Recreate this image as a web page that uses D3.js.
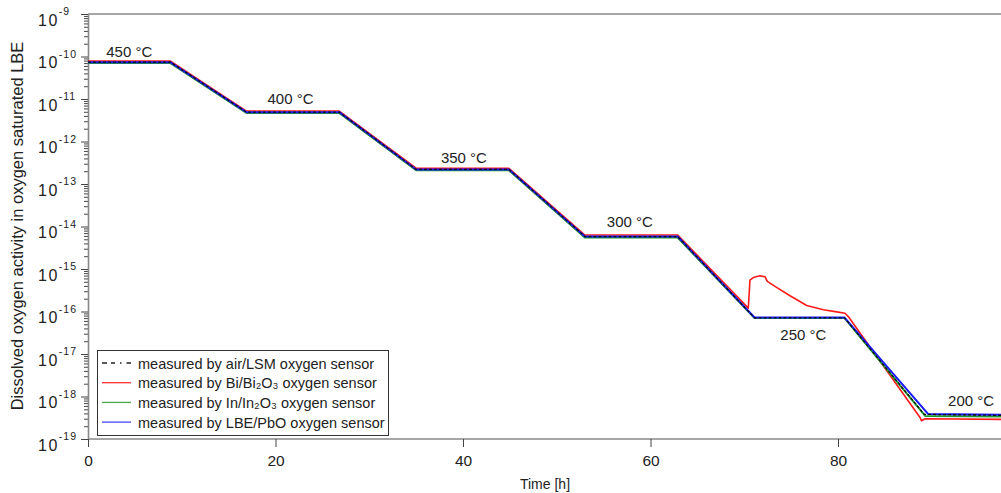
<!DOCTYPE html>
<html>
<head>
<meta charset="utf-8">
<script src="https://cdn.jsdelivr.net/npm/d3@7"></script>
<style>
  body { margin: 0; background: #fff; }
  svg { font-family: "Liberation Sans", Arial, sans-serif; }
</style>
</head>
<body>
<div class="chart"></div>
<script>
// time [h] and oxygen activity
const timeAir = [0, 8.8, 16.9, 26.8, 35.0, 44.9, 53.0, 62.9, 71.1, 80.7, 89.2, 97.5];
const actAir  = [7.4e-11, 7.4e-11, 4.9e-12, 4.9e-12, 2.2e-13, 2.2e-13, 5.8e-15, 5.8e-15, 7.1e-17, 7.1e-17, 3.8e-19, 3.6e-19];

const timeBi = [0, 8.8, 16.9, 26.8, 35.0, 44.9, 53.0, 62.9, 70.43, 70.61, 70.97, 71.68, 72.21, 72.46, 73.45, 74.88, 76.66, 78.44, 79.86, 80.75, 81.1, 88.75, 88.9, 89.3, 97.5];
const actBi  = [7.8e-11, 7.8e-11, 5.2e-12, 5.2e-12, 2.35e-13, 2.35e-13, 6.3e-15, 6.3e-15, 1.2e-16, 5.5e-16, 6.3e-16, 6.9e-16, 6.6e-16, 5.1e-16, 3.7e-16, 2.35e-16, 1.38e-16, 1.1e-16, 9.8e-17, 9.1e-17, 7.6e-17, 3.2e-19, 2.7e-19, 3.0e-19, 2.9e-19];

const timeIn = [0, 8.8, 16.9, 26.8, 35.0, 44.9, 53.0, 62.9, 71.1, 80.7, 89.3, 97.5];
const actIn  = [7.0e-11, 7.0e-11, 4.7e-12, 4.7e-12, 2.1e-13, 2.1e-13, 5.5e-15, 5.5e-15, 7.0e-17, 7.0e-17, 3.5e-19, 3.4e-19];

const timePbO = [0, 8.8, 16.9, 26.8, 35.0, 44.9, 53.0, 62.9, 71.1, 80.7, 89.6, 97.5];
const actPbO  = [7.3e-11, 7.3e-11, 4.9e-12, 4.9e-12, 2.2e-13, 2.2e-13, 5.8e-15, 5.8e-15, 7.2e-17, 7.2e-17, 3.9e-19, 3.7e-19];

const xTicks = [0, 20, 40, 60, 80];
const yExponents = [-9, -10, -11, -12, -13, -14, -15, -16, -17, -18, -19];

const tempLabels = ["450 °C", "400 °C", "350 °C", "300 °C", "250 °C", "200 °C"];
const tempAt = [[4.4, 9.7e-11], [21.6, 7.6e-12], [40.1, 3.1e-13], [57.8, 9.8e-15], [76.3, 2.1e-17], [94.2, 6.0e-19]];

const legendNames = ["measured by air/LSM oxygen sensor", "measured by Bi/Bi\u2082O\u2083 oxygen sensor",
                     "measured by In/In\u2082O\u2083 oxygen sensor", "measured by LBE/PbO oxygen sensor"];

const outerWidth = 1001;
const outerHeight = 493;
const plotLeft = 88, plotTop = 14, plotBottom = 439;

const svg = d3.select(".chart")
    .append("svg")
    .attr("width", outerWidth)
    .attr("height", outerHeight);

const x = d3.scaleLinear().domain([0, 100]).range([plotLeft, plotLeft + 937.5]);
const y = d3.scaleLog().domain([1e-19, 1e-9]).range([plotBottom, plotTop]);

svg.append("defs").append("clipPath").attr("id", "plot")
    .append("rect").attr("x", plotLeft).attr("y", plotTop - 2).attr("width", outerWidth - plotLeft).attr("height", plotBottom - plotTop + 4);

// frame (top line only, right side is cut off)
svg.append("line")
    .attr("x1", plotLeft).attr("x2", outerWidth).attr("y1", plotTop).attr("y2", plotTop)
    .attr("stroke", "#888").attr("stroke-width", 1.6);

// axes
const majors = yExponents.map(e => Math.pow(10, e));
let minors = [];
for (let e = -19; e < -9; e++) {
    for (let k = 2; k < 10; k++) minors.push(k * Math.pow(10, e));
}

svg.append("g")
    .attr("class", "axis-y-minor")
    .attr("transform", `translate(${plotLeft},0)`)
    .call(d3.axisLeft(y).tickValues(minors).tickSize(4).tickFormat(""))
    .call(g => g.select(".domain").remove());

const yAxisG = svg.append("g")
    .attr("class", "axis-y-axis")
    .attr("transform", `translate(${plotLeft},0)`)
    .call(d3.axisLeft(y).tickValues(majors).tickSize(7).tickSizeOuter(0));

yAxisG.selectAll(".tick text").each(function(d) {
    const t = d3.select(this);
    const ex = Math.round(Math.log10(d));
    t.text(null).attr("dy", null)
        .attr("x", -50).attr("y", 11)
        .attr("text-anchor", "start")
        .attr("font-size", 16).attr("letter-spacing", 1.5);
    t.append("tspan").text("10");
    t.append("tspan").attr("dy", -10.5).attr("font-size", 10.5).attr("letter-spacing", 1).text(ex);
});

const xAxisG = svg.append("g")
    .attr("class", "axis-x-axis")
    .attr("transform", `translate(0,${plotBottom})`)
    .call(d3.axisBottom(x).tickValues(xTicks).tickSize(8).tickSizeOuter(0).tickPadding(8));
xAxisG.select(".domain").attr("d", `M${plotLeft},0H${outerWidth}`);
xAxisG.selectAll(".tick text").attr("font-size", 15.5);

svg.selectAll(".domain").attr("stroke", "#888").attr("stroke-width", 1.6);
svg.selectAll(".tick line").attr("stroke", "#444");
svg.selectAll(".tick text").attr("fill", "#222").attr("font-family", "Liberation Sans, Arial, sans-serif");

// lines
const line = d3.line().x(d => x(d[0])).y(d => y(d[1]));
const series = [
    { t: timeBi, a: actBi, color: "#ff1a1a", dash: null, w: 1.6 },
    { t: timeIn, a: actIn, color: "#1f9a2a", dash: null, w: 2 },
    { t: timePbO, a: actPbO, color: "#1a1aff", dash: null, w: 2 },
    { t: timeAir, a: actAir, color: "#111", dash: "3,2", w: 1.3 }
];
const plot = svg.append("g").attr("clip-path", "url(#plot)");
plot.selectAll(".series")
    .data(series)
    .join("path")
    .attr("class", "series")
    .attr("fill", "none")
    .attr("stroke", d => d.color)
    .attr("stroke-width", d => d.w)
    .attr("stroke-dasharray", d => d.dash)
    .attr("stroke-linejoin", "round")
    .attr("d", d => line(d.t.map((v, i) => [v, d.a[i]])));

// temperature labels
svg.selectAll(".temp")
    .data(tempLabels)
    .join("text")
    .attr("class", "temp")
    .attr("x", (d, i) => x(tempAt[i][0]))
    .attr("y", (d, i) => y(tempAt[i][1]))
    .attr("text-anchor", "middle")
    .attr("font-size", 15)
    .attr("fill", "#222")
    .text(d => d);

// legend
const legend = svg.append("g").attr("class", "legend");
legend.append("rect")
    .attr("x", 97.5).attr("y", 350.5).attr("width", 291).attr("height", 85)
    .attr("fill", "#fff").attr("stroke", "#333").attr("stroke-width", 1);
const legendColors = ["#222", "#ff3030", "#4aa84a", "#4545ff"];
legendNames.forEach((name, i) => {
    const ly = 363 + i * 19.7;
    legend.append("line")
        .attr("x1", 102).attr("x2", 131).attr("y1", ly).attr("y2", ly)
        .attr("stroke", legendColors[i]).attr("stroke-width", 1.3)
        .attr("stroke-dasharray", i === 0 ? "5,4,4,5,1.5,5" : null);
    legend.append("text")
        .attr("x", 138).attr("y", ly + 5.5)
        .attr("font-size", 14.5).attr("fill", "#222")
        .text(name);
});

// axis titles
svg.append("text")
    .attr("transform", `translate(23,226) rotate(-90)`)
    .attr("text-anchor", "middle")
    .attr("font-size", 16.5)
    .attr("fill", "#222")
    .text("Dissolved oxygen activity in oxygen saturated LBE");

svg.append("text")
    .attr("x", 545).attr("y", 489)
    .attr("text-anchor", "middle")
    .attr("font-size", 14)
    .attr("fill", "#222")
    .text("Time [h]");
</script>
</body>
</html>
